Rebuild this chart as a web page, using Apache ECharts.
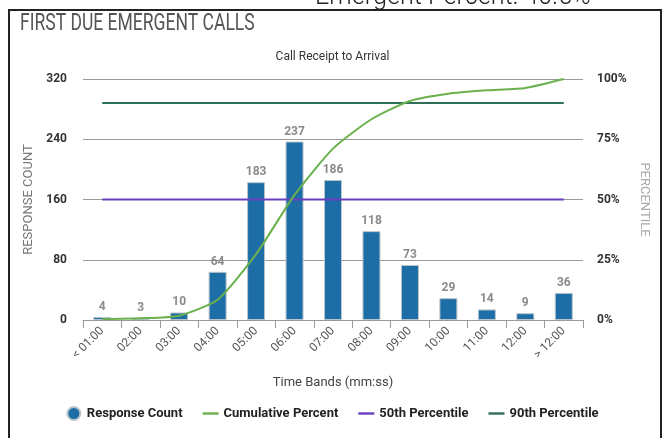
<!DOCTYPE html>
<html>
<head>
<meta charset="utf-8">
<script src="https://cdn.jsdelivr.net/npm/echarts@6/dist/echarts.min.js"></script>
<style>
  html, body { margin: 0; padding: 0; background: #fff; }
  #chart { width: 665px; height: 438px; }
</style>
</head>
<body>
<div id="chart"></div>
<script>
// Time bands on the category axis
var timeBands = ['< 01:00', '02:00', '03:00', '04:00', '05:00', '06:00', '07:00',
                 '08:00', '09:00', '10:00', '11:00', '12:00', '> 12:00'];
// Number of responses in each band
var responseCount = [4, 3, 10, 64, 183, 237, 186, 118, 73, 29, 14, 9, 36];
// Running share of responses (%)
var cumulativePercent = [0.4, 0.7, 1.8, 8.4, 27.3, 51.9, 71.1, 83.3, 90.9, 93.9, 95.3, 96.3, 100];
// Reference percentile levels (%)
var p50Line = [50, 50, 50, 50, 50, 50, 50, 50, 50, 50, 50, 50, 50];
var p90Line = [90, 90, 90, 90, 90, 90, 90, 90, 90, 90, 90, 90, 90];
// Axis ticks
var countTicks = [0, 80, 160, 240, 320];
var percentTicks = [0, 25, 50, 75, 100];

var FONT = 'Roboto, "Noto Sans", sans-serif';
var lineIcon = 'path://M0,0 H20 V3 H0 Z';

var chart = echarts.init(document.getElementById('chart'), null, { renderer: 'canvas' });
chart.setOption({
  animation: false,
  backgroundColor: '#fff',
  textStyle: { fontFamily: FONT },
  graphic: [
    { type: 'rect', shape: { x: 9, y: 10, width: 652, height: 440 },
      style: { fill: 'none', stroke: '#222', lineWidth: 2 }, z: 0 },
    { type: 'text', x: 315, y: -17, scaleX: 0.9,
      style: { text: 'Emergent Percent: 40.5%', font: '300 28px Roboto', fill: '#222' } },
    { type: 'text', x: 20, y: 12, scaleX: 0.73,
      style: { text: 'FIRST DUE EMERGENT CALLS', font: '24px Roboto', fill: '#555' } },
    { type: 'text', left: 'center', top: 51,
      style: { text: 'Call Receipt to Arrival', font: '12px Roboto', fill: '#333' } }
  ],
  legend: {
    bottom: 12,
    left: 'center',
    itemGap: 20,
    itemWidth: 16,
    itemHeight: 13,
    textStyle: { fontFamily: FONT, fontSize: 13, fontWeight: 'bold', color: '#222' },
    data: [
      { name: 'Response Count', icon: 'circle' },
      { name: 'Cumulative Percent', icon: lineIcon },
      { name: '50th Percentile', icon: lineIcon },
      { name: '90th Percentile', icon: lineIcon }
    ]
  },
  grid: { left: 83, right: 82, top: 79, bottom: 118, containLabel: false },
  xAxis: {
    type: 'category',
    data: timeBands,
    name: 'Time Bands (mm:ss)',
    nameLocation: 'middle',
    nameGap: 56,
    nameTextStyle: { fontSize: 13, color: '#444' },
    axisLine: { lineStyle: { color: '#999' } },
    axisTick: { show: true, length: 8, lineStyle: { color: '#999' } },
    axisLabel: { rotate: 45, fontSize: 12, color: '#555', margin: 9 }
  },
  yAxis: [
    {
      type: 'value', min: countTicks[0], max: countTicks[countTicks.length - 1], interval: 80,
      name: 'RESPONSE COUNT', nameLocation: 'middle', nameGap: 45,
      nameTextStyle: { fontSize: 13, color: '#777' },
      axisLine: { show: false }, axisTick: { show: false },
      axisLabel: { fontSize: 12, fontWeight: 'bold', color: '#333', margin: 16 },
      splitLine: { lineStyle: { color: '#999', width: 1 } }
    },
    {
      type: 'value', min: percentTicks[0], max: percentTicks[percentTicks.length - 1], interval: 25,
      name: 'PERCENTILE', nameLocation: 'middle', nameGap: 51, nameRotate: -90,
      nameTextStyle: { fontSize: 13, color: '#aaa' },
      axisLine: { show: false }, axisTick: { show: false },
      axisLabel: { fontSize: 12, fontWeight: 'bold', color: '#333', margin: 14, formatter: '{value}%' },
      splitLine: { show: false }
    }
  ],
  series: [
    {
      name: 'Response Count',
      type: 'bar',
      data: responseCount,
      barWidth: 18,
      itemStyle: { color: '#1d6ea6', borderColor: '#b9c4cc', borderWidth: 1 },
      label: { show: true, position: 'top', fontSize: 12, fontWeight: 'bold', color: '#8a8a8a', distance: 4 },
      z: 2
    },
    {
      name: 'Cumulative Percent',
      type: 'line',
      yAxisIndex: 1,
      data: cumulativePercent,
      smooth: 0.2,
      showSymbol: false,
      lineStyle: { color: '#6ab04c', width: 2 },
      itemStyle: { color: '#6ab04c' },
      z: 4
    },
    {
      name: '50th Percentile',
      type: 'line',
      yAxisIndex: 1,
      data: p50Line,
      showSymbol: false,
      lineStyle: { color: '#6a3fc0', width: 2 },
      itemStyle: { color: '#6a3fc0' },
      z: 3
    },
    {
      name: '90th Percentile',
      type: 'line',
      yAxisIndex: 1,
      data: p90Line,
      showSymbol: false,
      lineStyle: { color: '#2f6e57', width: 2 },
      itemStyle: { color: '#2f6e57' },
      z: 3
    }
  ]
});
</script>
</body>
</html>
